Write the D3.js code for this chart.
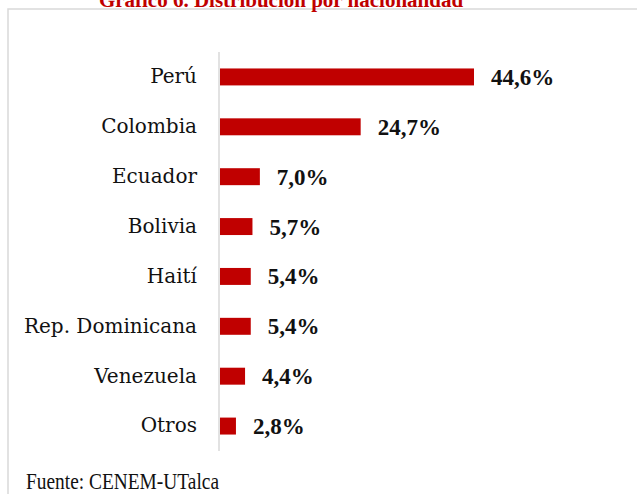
<!DOCTYPE html>
<html lang="es">
<head>
<meta charset="utf-8">
<title>Distribución por nacionalidad</title>
<script src="https://cdn.jsdelivr.net/npm/d3@7"></script>
<style>
  body { margin: 0; background: #fff; }
  svg { display: block; }
</style>
</head>
<body>
<script>
// datos
var paises = ['Perú', 'Colombia', 'Ecuador', 'Bolivia', 'Haití', 'Rep. Dominicana', 'Venezuela', 'Otros'];
var porcentajes = [44.6, 24.7, 7.0, 5.7, 5.4, 5.4, 4.4, 2.8];
var titulo = 'Gráfico 6. Distribución por nacionalidad';
var fuente = 'Fuente: CENEM-UTalca';

var width = 637, height = 494;
var rojo = '#c00000';

var svg = d3.select('body').append('svg')
    .attr('width', width)
    .attr('height', height);

// marco del gráfico (se corta por la derecha y abajo)
svg.append('rect')
    .attr('x', 8).attr('y', 9)
    .attr('width', 640).attr('height', 500)
    .style('fill', 'none')
    .style('stroke', '#d9d9d9')
    .style('stroke-width', 1.5);

// el título queda cortado por arriba, como en la imagen original
svg.append('text')
    .attr('x', 281).attr('y', 7)
    .attr('text-anchor', 'middle')
    .style('font-family', 'Liberation Serif')
    .style('font-weight', 'bold')
    .style('font-size', '21px')
    .style('fill', rojo)
    .text(titulo);

var x = d3.scaleLinear().domain([0, 44.6]).range([220, 474]);
var y = d3.scaleBand().domain(paises).range([52, 451]).paddingInner(0.66).paddingOuter(0.33);

var datos = paises.map(function (p, i) {
    return {pais: p, valor: porcentajes[i]};
});

svg.selectAll('rect.bar')
    .data(datos)
    .enter()
    .append('rect')
    .attr('class', 'bar')
    .attr('x', x(0))
    .attr('y', function (d) { return y(d.pais); })
    .attr('width', function (d) { return x(d.valor) - x(0); })
    .attr('height', y.bandwidth())
    .style('fill', rojo);

// eje vertical
var eje = svg.append('g')
    .attr('transform', 'translate(219,0)')
    .call(d3.axisLeft(y).tickSize(0).tickPadding(22));
eje.select('.domain')
    .attr('d', 'M0,52V451')
    .style('stroke', '#d9d9d9')
    .style('stroke-width', 1.5);
eje.selectAll('text')
    .style('font-family', 'DejaVu Serif')
    .style('font-size', '20px')
    .style('fill', '#111');

svg.selectAll('text.valor')
    .data(datos)
    .enter()
    .append('text')
    .attr('class', 'valor')
    .attr('x', function (d) { return x(d.valor) + 17; })
    .attr('y', function (d) { return y(d.pais) + y.bandwidth() / 2; })
    .attr('dy', '0.35em')
    .style('font-family', 'Liberation Serif')
    .style('font-weight', 'bold')
    .style('font-size', '23px')
    .style('fill', '#111')
    .text(function (d) { return d3.format('.1f')(d.valor).replace('.', ',') + '%'; });

svg.append('text')
    .attr('x', 26).attr('y', 489)
    .attr('textLength', 193)
    .attr('lengthAdjust', 'spacingAndGlyphs')
    .style('font-family', 'Liberation Serif')
    .style('font-size', '22.5px')
    .style('fill', '#111')
    .text(fuente);
</script>
</body>
</html>
